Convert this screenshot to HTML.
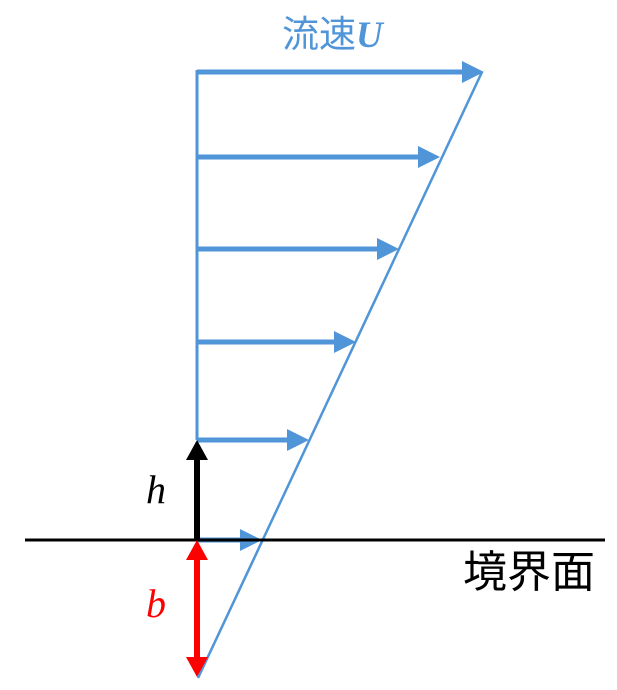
<!DOCTYPE html>
<html><head><meta charset="utf-8"><style>
body{margin:0;background:#fff;}
svg{display:block}
text{font-family:"Liberation Sans","Noto Sans CJK JP",sans-serif;}
</style></head><body>
<svg width="617" height="690" viewBox="0 0 617 690" xmlns="http://www.w3.org/2000/svg">
<g stroke="#4f95d8" fill="#4f95d8">
<line x1="197" y1="70" x2="197" y2="440" stroke-width="3"/>
<line x1="482" y1="72" x2="198" y2="678" stroke-width="2.5"/>
<g stroke-width="5">
<line x1="197" y1="72" x2="462" y2="72"/>
<line x1="197" y1="157" x2="418" y2="157"/>
<line x1="197" y1="249" x2="377" y2="249"/>
<line x1="197" y1="342" x2="334" y2="342"/>
<line x1="197" y1="440" x2="287" y2="440"/>
<line x1="197" y1="540" x2="240" y2="540"/>
</g>
<g stroke="none">
<polygon points="462,61 484,72 462,83"/>
<polygon points="418,146 440,157 418,168"/>
<polygon points="377,238 399,249 377,260"/>
<polygon points="334,331 356,342 334,353"/>
<polygon points="287,429 309,440 287,451"/>
<polygon points="240,529 262,540 240,551"/>
</g>
</g>
<line x1="25" y1="540" x2="605" y2="540" stroke="#000" stroke-width="3"/>
<line x1="197" y1="540" x2="197" y2="458" stroke="#000" stroke-width="6"/>
<polygon points="186,460 197,440 208,460" fill="#000"/>
<line x1="197" y1="555" x2="197" y2="660" stroke="#f00" stroke-width="6"/>
<polygon points="186,560 197,540 208,560" fill="#f00"/>
<polygon points="186,657 197,677 208,657" fill="#f00"/>
<text x="282" y="47" font-size="37" fill="#4f95d8">流速<tspan style="font-family:'Liberation Serif',serif" font-style="italic" font-weight="bold">U</tspan></text>
<text x="146" y="503" font-size="40" font-style="italic" style="font-family:'Liberation Serif',serif">h</text>
<text x="146" y="617" font-size="40" fill="#f00" font-style="italic" style="font-family:'Liberation Serif',serif">b</text>
<text x="463" y="587" font-size="44" fill="#000">境界面</text>
</svg>
</body></html>
